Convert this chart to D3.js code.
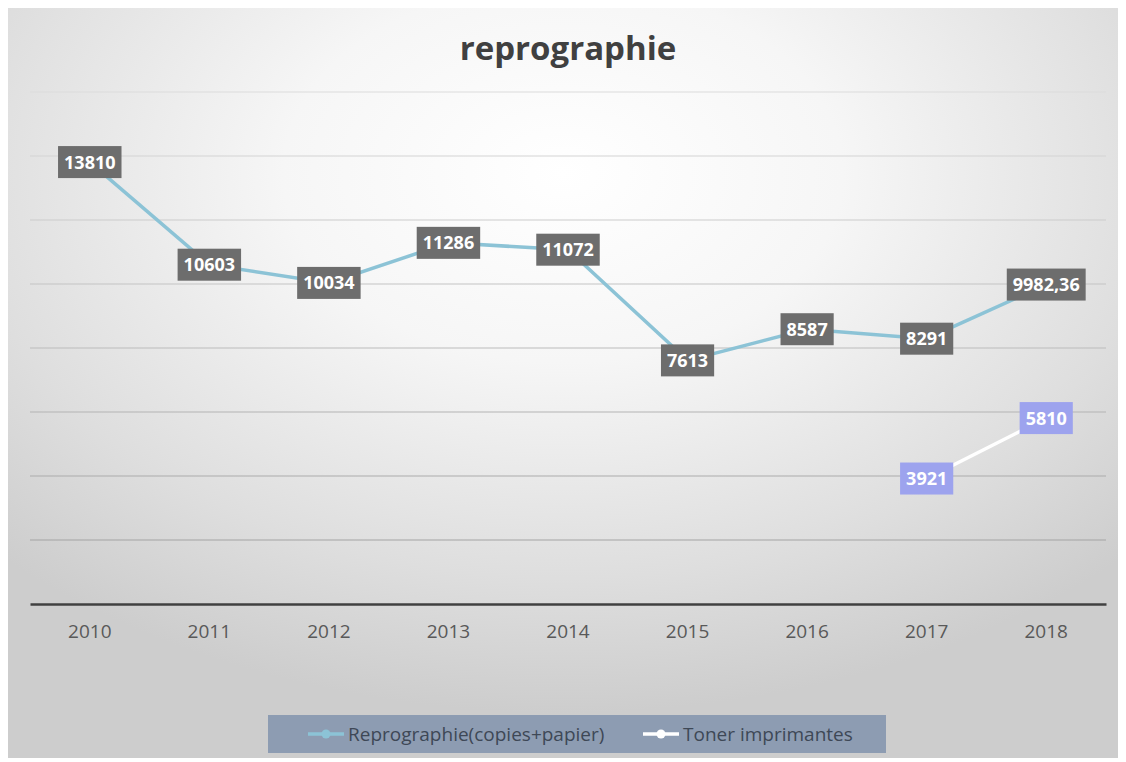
<!DOCTYPE html>
<html lang="fr">
<head>
    <meta charset="UTF-8">
    <title>reprographie</title>
    <style>
        html, body { margin: 0; padding: 0; background: #fff; }
        svg { display: block; font-family: "Open Sans", "Noto Sans", sans-serif; }
    </style>
</head>
<body>
    <svg class="chart"></svg>
    <script src="https://d3js.org/d3.v7.min.js"></script>
    <script>
    // data
    const years = ["2010", "2011", "2012", "2013", "2014", "2015", "2016", "2017", "2018"];
    const repro_values = [13810, 10603, 10034, 11286, 11072, 7613, 8587, 8291, 9982.36];
    const toner_years = ["2017", "2018"];
    const toner_values = [3921, 5810];
    const repro_labels = ["13810", "10603", "10034", "11286", "11072", "7613", "8587", "8291", "9982,36"];
    const toner_labels = ["3921", "5810"];
    const y_ticks = [0, 2000, 4000, 6000, 8000, 10000, 12000, 14000, 16000];

    const W = 1126, H = 762;
    const margin = {top: 92, right: 20, bottom: 158, left: 30};
    const width = W - margin.left - margin.right;
    const height = H - margin.top - margin.bottom;

    const svg = d3.select(".chart").attr("width", W).attr("height", H);

    // background gradient like the office chart
    const defs = svg.append("defs");
    const grad = defs.append("radialGradient")
        .attr("id", "bg")
        .attr("cx", "50%").attr("cy", "22%").attr("r", "72%");
    grad.append("stop").attr("offset", "0%").attr("stop-color", "#ffffff");
    grad.append("stop").attr("offset", "35%").attr("stop-color", "#f6f6f6");
    grad.append("stop").attr("offset", "75%").attr("stop-color", "#dedede");
    grad.append("stop").attr("offset", "100%").attr("stop-color", "#cdcdcd");

    svg.append("rect")
        .attr("x", 8).attr("y", 8)
        .attr("width", W - 16).attr("height", H - 12)
        .attr("fill", "url(#bg)");

    svg.append("text")
        .attr("x", 568).attr("y", 60)
        .attr("text-anchor", "middle")
        .style("font-size", "33px")
        .style("font-weight", "bold")
        .style("fill", "#404040")
        .text("reprographie");

    const plot = svg.append("g")
        .attr("transform", "translate(" + margin.left + "," + margin.top + ")");

    const x_scale = d3.scaleBand()
        .domain(years)
        .range([0, width]);

    const y_scale = d3.scaleLinear()
        .domain([0, 16000])
        .range([height, 0]);

    const cx = d => x_scale(d) + x_scale.bandwidth() / 2;

    // gridlines, lighter near the top
    const grid_color = d3.scaleLinear()
        .domain([16000, 2000])
        .range(["#dcdcdc", "#a4a4a4"]);

    plot.append("g")
        .selectAll("line")
        .data(y_ticks.filter(t => t > 0))
        .join("line")
        .attr("x1", 0).attr("x2", width)
        .attr("y1", d => y_scale(d)).attr("y2", d => y_scale(d))
        .attr("stroke", d => grid_color(d))
        .attr("stroke-width", 1.2);

    // x axis
    const x_axis = plot.append("g")
        .attr("transform", "translate(0," + height + ")")
        .call(d3.axisBottom(x_scale).tickSize(0).tickPadding(21));
    x_axis.select(".domain").attr("stroke", "#404040").attr("stroke-width", 2.5);
    x_axis.selectAll("text")
        .style("font-size", "19px")
        .style("fill", "#595959")
        .style("font-family", "\"Open Sans\", sans-serif");

    const line_gen = d3.line()
        .x(d => cx(d[0]))
        .y(d => y_scale(d[1]));

    const repro = years.map((y, i) => [y, repro_values[i], repro_labels[i]]);
    const toner = toner_years.map((y, i) => [y, toner_values[i], toner_labels[i]]);

    plot.append("path")
        .datum(repro)
        .attr("d", line_gen)
        .attr("fill", "none")
        .attr("stroke", "#8cc3d6")
        .attr("stroke-width", 3.5);

    plot.append("path")
        .datum(toner)
        .attr("d", line_gen)
        .attr("fill", "none")
        .attr("stroke", "#ffffff")
        .attr("stroke-width", 3.5);

    function draw_labels(data, box_color) {
        const g = plot.append("g")
            .selectAll("g")
            .data(data)
            .join("g")
            .attr("transform", d => "translate(" + cx(d[0]) + "," + y_scale(d[1]) + ")");
        g.append("text")
            .attr("text-anchor", "middle")
            .attr("dy", "0.36em")
            .style("font-size", "18px")
            .style("font-weight", "bold")
            .style("fill", "#ffffff")
            .text(d => d[2]);
        g.each(function() {
            const bb = d3.select(this).select("text").node().getBBox();
            d3.select(this).insert("rect", "text")
                .attr("x", bb.x - 6).attr("y", -16)
                .attr("width", bb.width + 12).attr("height", 32)
                .attr("fill", box_color);
        });
    }

    draw_labels(repro, "#6d6d6d");
    draw_labels(toner, "#9da3ee");

    // legend
    const legend = svg.append("g");
    legend.append("rect")
        .attr("x", 268).attr("y", 715)
        .attr("width", 618).attr("height", 38)
        .attr("fill", "#8d9cb2");

    const legend_items = [
        {name: "Reprographie(copies+papier)", color: "#8cc3d6", x: 308},
        {name: "Toner imprimantes", color: "#ffffff", x: 643}
    ];
    const li = legend.selectAll("g.item")
        .data(legend_items)
        .join("g")
        .attr("class", "item")
        .attr("transform", d => "translate(" + d.x + ",734)");
    li.append("line")
        .attr("x1", 0).attr("x2", 36)
        .attr("stroke", d => d.color)
        .attr("stroke-width", 3.5);
    li.append("circle")
        .attr("cx", 18).attr("r", 4.5)
        .attr("fill", d => d.color);
    li.append("text")
        .attr("x", 40).attr("dy", "0.35em")
        .style("font-size", "19px")
        .style("fill", "#3e4856")
        .text(d => d.name);
    </script>
</body>
</html>
